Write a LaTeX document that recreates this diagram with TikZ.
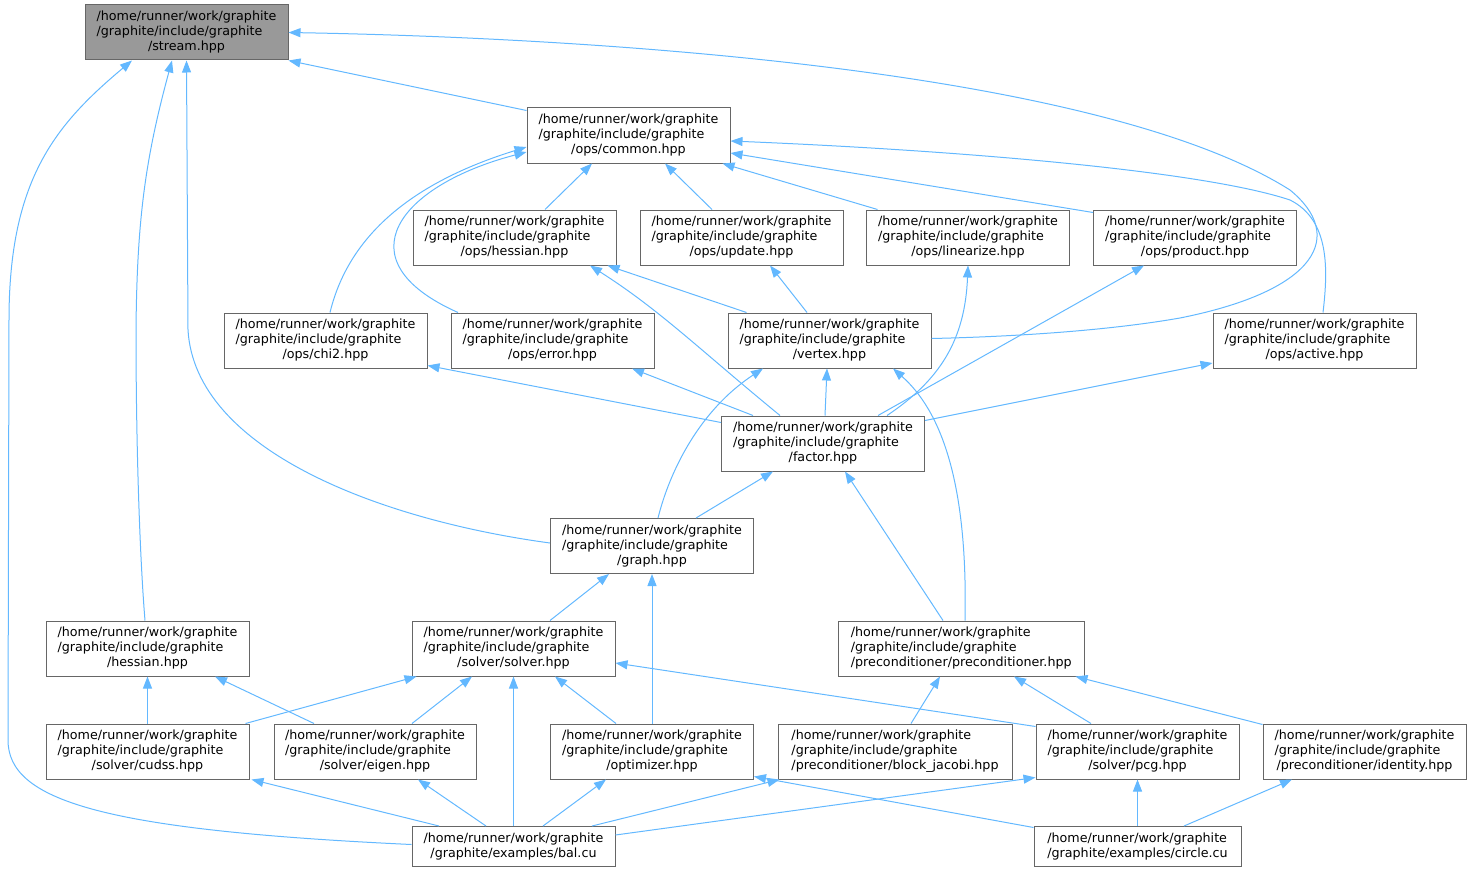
\documentclass[tikz,border=0pt]{standalone}
\usepackage{fontspec}
\setmainfont{DejaVu Sans}
\usetikzlibrary{arrows.meta}
\definecolor{edgecol}{HTML}{63B8FF}
\definecolor{boxgray}{HTML}{666666}
\definecolor{rootfill}{HTML}{999999}
\newcommand{\Pth}{/home/runner/work/graphite}
\newcommand{\Qth}{/graphite/include/graphite}
\newcommand{\threel}[1]{\begin{tabular}{@{}l@{}}\Pth\\\Qth\\\multicolumn{1}{@{}c@{}}{#1}\end{tabular}}
\newcommand{\twol}[1]{\begin{tabular}{@{}l@{}}\Pth\\\multicolumn{1}{@{}c@{}}{#1}\end{tabular}}
\tikzset{
  filebox/.style={draw=boxgray, line width=1pt, fill=white, inner sep=0pt,
    minimum height=55pt, minimum width=203pt, font={\fontsize{12.7}{15}\selectfont}},
  rootbox/.style={filebox, fill=rootfill},
  dep/.style={draw=edgecol, line width=1pt, {Triangle[length=12pt,width=9pt]}-}
}
\begin{document}
\begin{tikzpicture}[x=1pt,y=-1pt]
\useasboundingbox (0,0) rectangle (1471,872);
% nodes
\node[rootbox] (stream) at (186.5,32.5) {\threel{/stream.hpp}};
\node[filebox] (common) at (628.5,135.5) {\threel{/ops/common.hpp}};
\node[filebox] (opshess) at (514.5,237.5) {\threel{/ops/hessian.hpp}};
\node[filebox] (update) at (741.5,237.5) {\threel{/ops/update.hpp}};
\node[filebox] (linearize) at (968,237.5) {\threel{/ops/linearize.hpp}};
\node[filebox] (product) at (1195,237.5) {\threel{/ops/product.hpp}};
\node[filebox] (chi2) at (325.5,340.5) {\threel{/ops/chi2.hpp}};
\node[filebox] (error) at (552.5,340.5) {\threel{/ops/error.hpp}};
\node[filebox] (vertex) at (829.5,340.5) {\threel{/vertex.hpp}};
\node[filebox] (active) at (1314.5,340.5) {\threel{/ops/active.hpp}};
\node[filebox] (factor) at (823,443.5) {\threel{/factor.hpp}};
\node[filebox] (graph) at (652,546) {\threel{/graph.hpp}};
\node[filebox] (hessian) at (147.5,648.5) {\threel{/hessian.hpp}};
\node[filebox] (solver) at (513.5,648.5) {\threel{/solver/solver.hpp}};
\node[filebox, minimum width=245.5pt] (precond) at (961.25,648.5) {\threel{/preconditioner/preconditioner.hpp}};
\node[filebox] (cudss) at (147.5,751.5) {\threel{/solver/cudss.hpp}};
\node[filebox, minimum width=202pt] (eigen) at (375,751.5) {\threel{/solver/eigen.hpp}};
\node[filebox] (optimizer) at (652,751.5) {\threel{/optimizer.hpp}};
\node[filebox, minimum width=234pt] (bj) at (895,751.5) {\threel{/preconditioner/block\_jacobi.hpp}};
\node[filebox] (pcg) at (1137.5,751.5) {\threel{/solver/pcg.hpp}};
\node[filebox] (identity) at (1364.5,751.5) {\threel{/preconditioner/identity.hpp}};
\node[filebox, minimum height=40pt] (bal) at (513.5,846.5) {\twol{/graphite/examples/bal.cu}};
\node[filebox, minimum height=40pt, minimum width=207pt] (circle) at (1137.5,846.5) {\twol{/graphite/examples/circle.cu}};
% edges into stream
\draw[dep] (stream.south east) -- ([yshift=-3pt]common.north west);
\draw[dep] (stream.east) .. controls (600,38) and (1100,70) .. (1290,190)
  .. controls (1345,235) and (1320,290) .. (1180,318)
  .. controls (1100,332) and (1000,337) .. ([yshift=2pt]vertex.east);
\draw[dep] (stream.south) -- (188,330) .. controls (195,450) and (380,520) .. ([yshift=3pt]graph.west);
\draw[dep] ([xshift=-14.5pt]stream.south) .. controls (145,160) and (137,220) .. (136,330)
  .. controls (136,450) and (140,560) .. ([xshift=-2.5pt]hessian.north);
\draw[dep] ([xshift=-54.5pt]stream.south) .. controls (55,125) and (9,180) .. (9,320)
  -- (8,740) .. controls (8,800) and (100,830) .. ([yshift=2pt]bal.west);
% edges into common
\draw[dep] ([xshift=-36.5pt]common.south) -- ([xshift=30.5pt]opshess.north);
\draw[dep] ([xshift=36.5pt]common.south) -- ([xshift=-29.5pt]update.north);
\draw[dep] ([xshift=-8pt]common.south east) -- ([xshift=11.5pt]linearize.north west);
\draw[dep] ([yshift=-17.5pt]common.east) -- ([yshift=-3pt]product.north west);
\draw[dep] ([yshift=-5.5pt]common.east) .. controls (950,150) and (1200,170) .. (1290,200)
  .. controls (1330,220) and (1328,270) .. ([xshift=8.5pt]active.north);
\draw[dep] ([yshift=-11.5pt]common.west) .. controls (420,180) and (350,230) .. ([xshift=4.5pt]chi2.north);
\draw[dep] ([yshift=-16.5pt]common.west) .. controls (400,185) and (340,260) .. ([xshift=-94.5pt]error.north);
% second level
\draw[dep] ([xshift=-9pt]opshess.south east) -- ([xshift=19pt]vertex.north west);
\draw[dep] ([xshift=75.5pt]opshess.south) .. controls (660,310) and (700,350) .. ([xshift=-43pt]factor.north);
\draw[dep] ([xshift=28.5pt]update.south) -- ([xshift=-22.5pt]vertex.north);
\draw[dep] (linearize.south) .. controls (965,340) and (940,380) .. ([xshift=64pt]factor.north);
\draw[dep] ([xshift=-51pt]product.south) -- ([xshift=55pt]factor.north);
\draw[dep] ([yshift=3pt]chi2.south east) -- ([yshift=-7pt]factor.north west);
\draw[dep] ([xshift=79.5pt]error.south) -- ([xshift=-70pt]factor.north);
\draw[dep] ([xshift=-2.5pt]vertex.south) -- ([xshift=2pt]factor.north);
\draw[dep] ([xshift=-66.5pt]vertex.south) .. controls (700,410) and (670,470) .. ([xshift=6pt]graph.north);
\draw[dep] ([xshift=63.5pt]vertex.south) .. controls (940,410) and (968,480) .. ([xshift=3.75pt]precond.north);
\draw[dep] ([yshift=-22.5pt]active.west) -- ([yshift=-5pt]factor.north east);
\draw[dep] ([xshift=-50pt]factor.south) -- ([xshift=44pt]graph.north);
\draw[dep] ([xshift=22pt]factor.south) -- ([xshift=-18.25pt]precond.north);
\draw[dep] ([xshift=-43pt]graph.south) -- ([xshift=36.5pt]solver.north);
\draw[dep] (graph.south) -- (optimizer.north);
% lower levels
\draw[dep] (hessian.south) -- (cudss.north);
\draw[dep] ([xshift=67.5pt]hessian.south) -- ([xshift=-61pt]eigen.north);
\draw[dep] ([xshift=5pt]solver.south west) -- ([xshift=-4pt]cudss.north east);
\draw[dep] ([xshift=-41.5pt]solver.south) -- ([xshift=37pt]eigen.north);
\draw[dep] (solver.south) -- (bal.north);
\draw[dep] ([xshift=41.5pt]solver.south) -- ([xshift=-36pt]optimizer.north);
\draw[dep] ([yshift=-14.5pt]solver.east) -- ([yshift=-3pt]pcg.north west);
\draw[dep] ([xshift=2pt]cudss.south east) -- ([xshift=-74.5pt]bal.north);
\draw[dep] ([xshift=43pt]eigen.south) -- ([xshift=-27.5pt]bal.north);
\draw[dep] ([xshift=-46pt]optimizer.south) -- ([xshift=29.5pt]bal.north);
\draw[dep] ([xshift=2pt]bj.south west) -- ([xshift=78.5pt]bal.north);
\draw[dep] ([yshift=2pt]pcg.south west) -- ([yshift=11.5pt]bal.east);
\draw[dep] ([yshift=3pt]optimizer.south east) -- ([yshift=-1.5pt]circle.north west);
\draw[dep] (pcg.south) -- (circle.north);
\draw[dep] ([xshift=-72.5pt]identity.south) -- ([xshift=46.5pt]circle.north);
\draw[dep] ([xshift=-21.25pt]precond.south) -- ([xshift=16pt]bj.north);
\draw[dep] ([xshift=52.75pt]precond.south) -- ([xshift=-46.5pt]pcg.north);
\draw[dep] ([xshift=-9pt]precond.south east) -- ([yshift=-1pt]identity.north west);
\end{tikzpicture}
\end{document}
